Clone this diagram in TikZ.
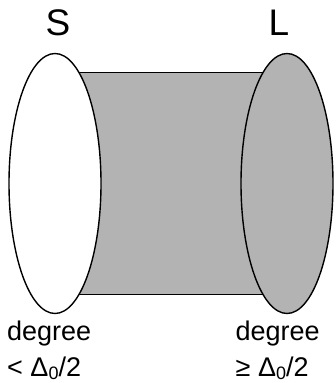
\documentclass[tikz,border=0pt]{standalone}
\usepackage{fontspec}
\setmainfont{Liberation Sans}
\usetikzlibrary{shapes.geometric,positioning,calc}
\definecolor{band}{HTML}{B3B3B3}
\newcommand{\dsub}[1]{\raisebox{-2.5pt}{\fontsize{18}{18}\selectfont #1}}

\begin{document}
\begin{tikzpicture}[
  x=1pt, y=1pt,
  side/.style={draw=black, line width=1.4pt, ellipse, minimum width=92pt, minimum height=260pt, inner sep=0pt},
  setname/.style={font=\fontsize{37}{40}\selectfont, inner sep=0pt},
  deglabel/.style={font=\fontsize{27}{36}\selectfont, align=left, inner sep=0pt, anchor=north west}
]
\useasboundingbox (0,0) rectangle (335,383);
\coordinate (cs) at (55,199.5);
\coordinate (cl) at (287,199.5);
\draw[fill=band, line width=1.4pt] ($(cs)+(0,111)$) rectangle ($(cl)+(0,-111)$);
\node[side, fill=white] (S) at (cs) {};
\node[side, fill=band] (L) at (cl) {};

\node[setname] (sname) at (58,360) {S};
\node[setname] (lname) at (279,360) {L};

\node[deglabel] (sdeg) at (7,62) {degree\\< Δ\dsub{0}/2};
\node[deglabel] (ldeg) at (235.5,62) {degree\\≥ Δ\dsub{0}/2};
\end{tikzpicture}
\end{document}
